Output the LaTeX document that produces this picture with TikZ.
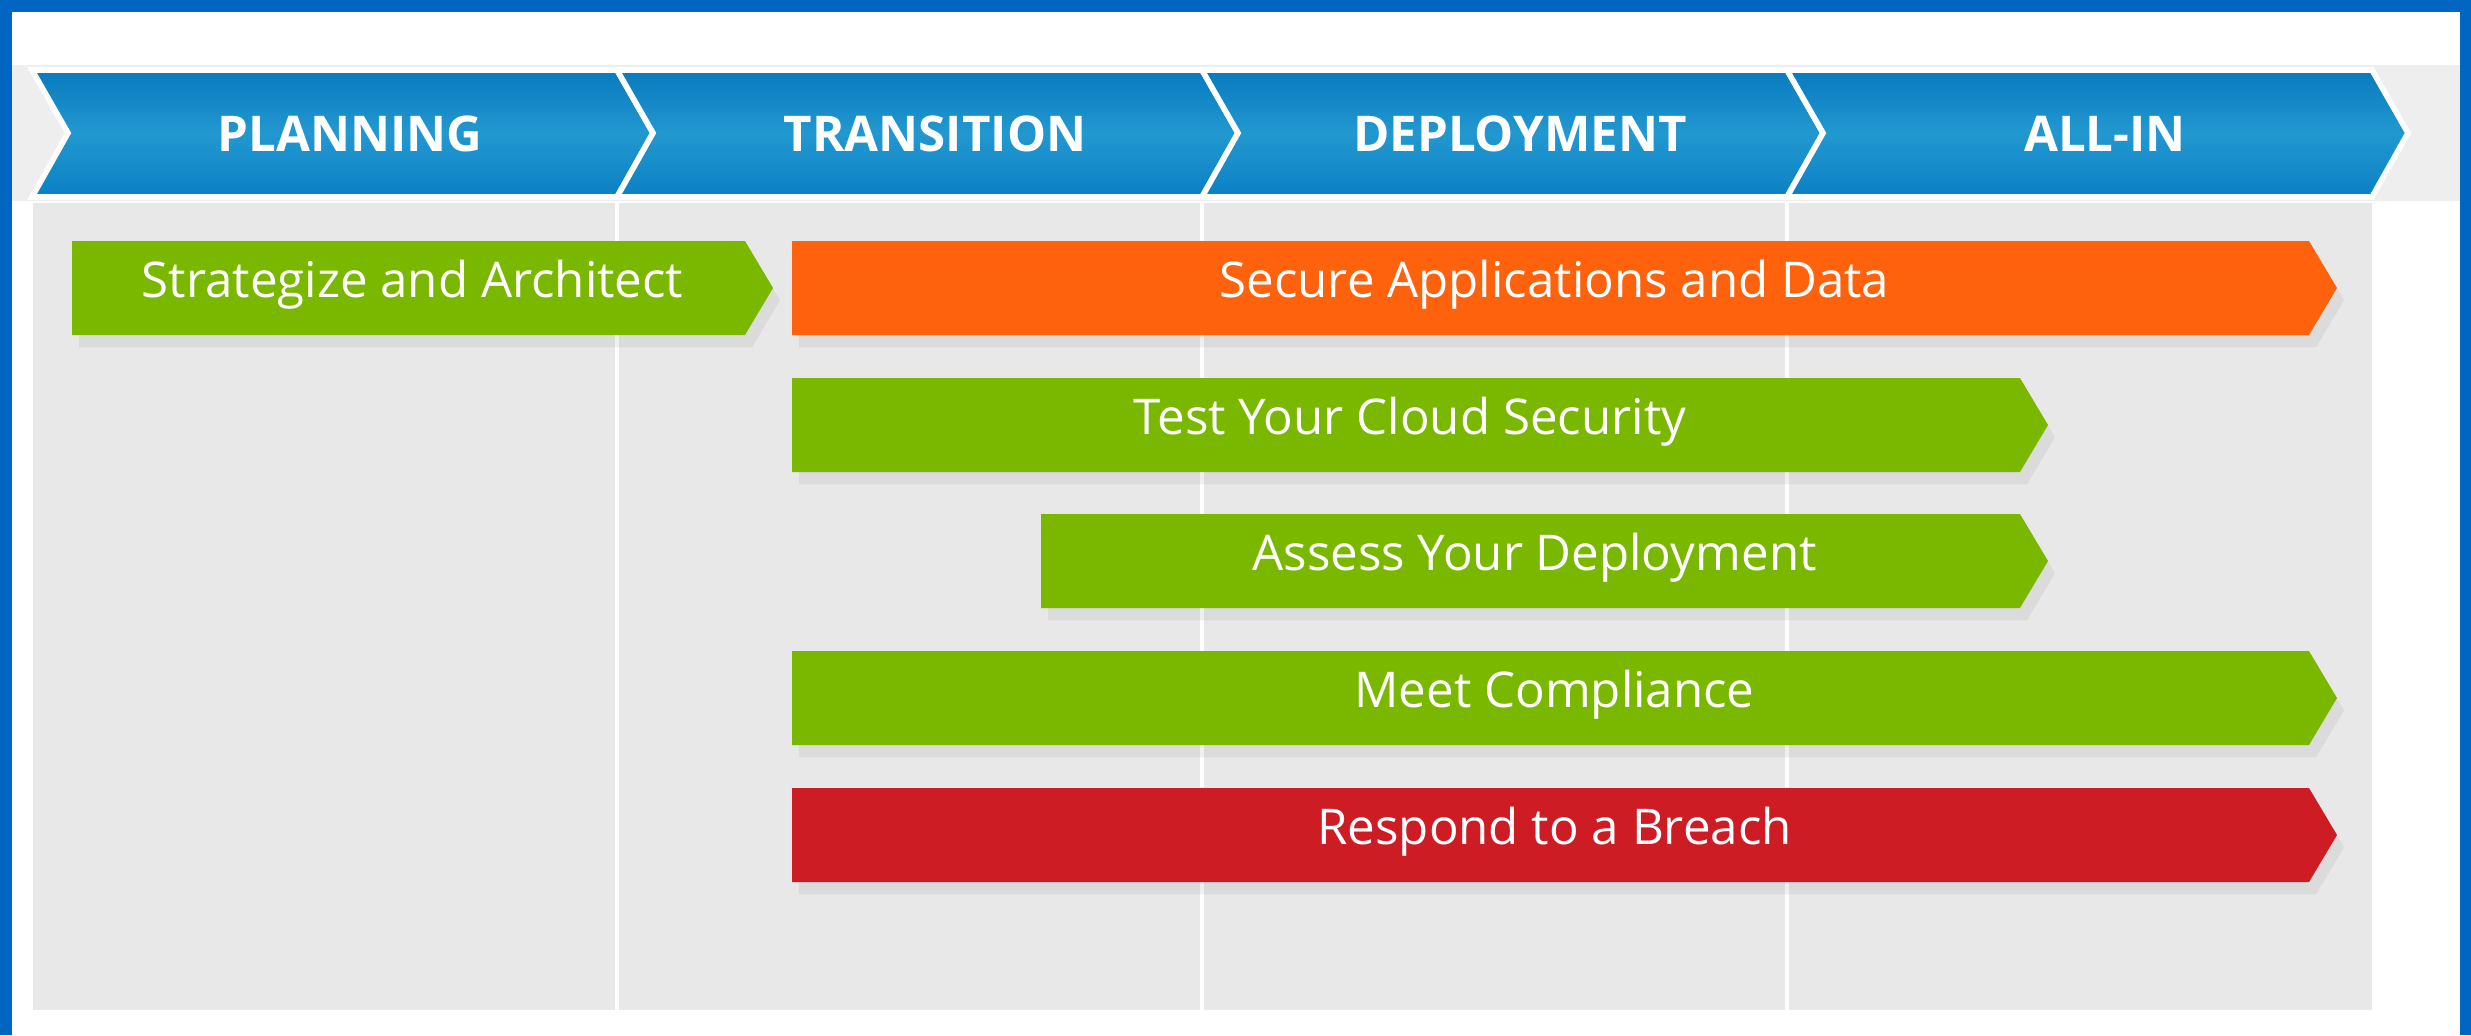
\documentclass[tikz,border=0pt]{standalone}
\usepackage{fontspec}
\setmainfont{Open Sans}
\newfontfamily\hdrfont{Open Sans}
\usetikzlibrary{shadows}

\definecolor{frameblue}{RGB}{0,102,194}
\definecolor{hdrtop}{RGB}{8,122,190}
\definecolor{hdrmid}{RGB}{34,152,208}
\definecolor{hdrbot}{RGB}{10,128,196}
\definecolor{bandgrey}{RGB}{238,238,238}
\definecolor{panelgrey}{RGB}{232,232,232}
\definecolor{barGreen}{RGB}{122,184,0}
\definecolor{barOrange}{RGB}{255,98,12}
\definecolor{barRed}{RGB}{206,28,36}

\tikzset{
    phase/.style={top color=hdrtop, bottom color=hdrbot, middle color=hdrmid, draw=white, line width=1.6pt},
    phaselabel/.style={text=white, font=\hdrfont\bfseries\fontsize{14}{16}\selectfont},
    taskbar/.style={drop shadow={shadow xshift=2pt, shadow yshift=-3.5pt, opacity=0.12}},
    tasklabel/.style={text=white, font=\fontsize{14}{16}\selectfont}
}

\begin{document}
\begin{tikzpicture}[x=0.01cm, y=-0.01cm]
    \useasboundingbox (0,0) rectangle (2471,1035);

    % frame
    \fill[frameblue] (0,0) rectangle (2471,1035);
    \fill[white] (12,12) rectangle (2460,1035);

    % header band and panel
    \fill[bandgrey] (12,65) rectangle (2460,201);
    \fill[panelgrey] (33,203) rectangle (2372,1010);
    \foreach \x in {617,1202,1787}
        \draw[white, line width=1.2pt] (\x,203) -- (\x,1010);

    % phase chevrons
    \foreach \x/\name/\txt in {32/planning/PLANNING, 617/transition/TRANSITION, 1202/deployment/DEPLOYMENT, 1787/allin/ALL-IN}
        \draw[phase] (\x,70) -- (\x+585,70) -- (\x+621,133) -- (\x+585,197) -- (\x,197) -- (\x+36,133) -- cycle
            node[phaselabel] (\name) at (\x+318,134) {\txt};

    % task bars
    \foreach \xa/\xb/\y/\col/\name/\txt in {72/745/241/barGreen/strategize/Strategize and Architect,
            792/2309/241/barOrange/secure/Secure Applications and Data,
            792/2020/378/barGreen/test/Test Your Cloud Security,
            1041/2020/514/barGreen/assess/Assess Your Deployment,
            792/2309/651/barGreen/comply/Meet Compliance,
            792/2309/788/barRed/breach/Respond to a Breach}
        \fill[taskbar, \col] (\xa,\y) -- (\xb,\y) -- (\xb+28,\y+47) -- (\xb,\y+94) -- (\xa,\y+94) -- cycle
            node[tasklabel] (\name) at ({(\xa+\xb)/2+4},\y+44) {\txt};
\end{tikzpicture}
\end{document}
